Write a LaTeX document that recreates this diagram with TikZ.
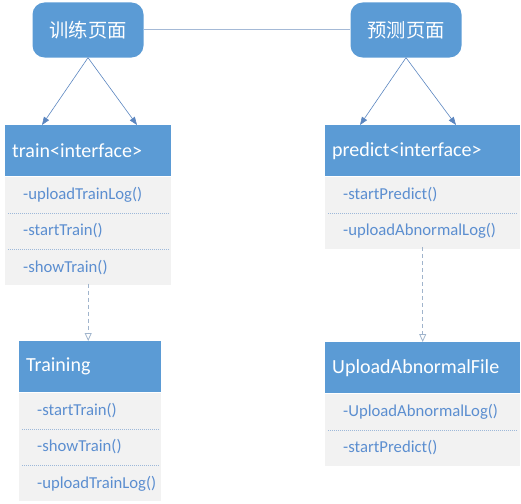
\documentclass[tikz,border=0pt]{standalone}
\usepackage{fontspec}
\setmainfont{Carlito}
\newfontfamily\cjkfont{Noto Sans CJK SC}
\usetikzlibrary{positioning,arrows.meta}

\definecolor{headblue}{HTML}{5B9BD5}
\definecolor{bodygray}{HTML}{F2F2F2}
\definecolor{membertext}{HTML}{5B8ED0}
\definecolor{arrowblue}{HTML}{5B86C0}
\definecolor{linkblue}{HTML}{A4B9D6}
\definecolor{dashblue}{HTML}{A0B4CC}
\definecolor{sepblue}{HTML}{9DB8D9}

\tikzset{
  page/.style={fill=headblue, rounded corners=12pt, minimum width=111pt,
    minimum height=55pt, text=white, font=\cjkfont\fontsize{19.3}{22}\selectfont},
  header/.style={fill=headblue, text=white, anchor=north west, minimum height=51pt,
    inner xsep=7pt, text width=#1, align=left, font=\fontsize{20}{23}\selectfont},
  member/.style={fill=bodygray, text=membertext, minimum height=36pt,
    inner xsep=2pt, text width=#1, align=left, font=\fontsize{16.7}{19}\selectfont,
    execute at begin node={\hspace*{16pt}}},
  uses/.style={draw=arrowblue, line width=0.6pt, -{Triangle[length=8pt, width=6pt]}},
  realize/.style={draw=dashblue, line width=0.8pt, dash pattern=on 4pt off 3pt,
    -{Triangle[open, length=8pt, width=7pt]}},
  sep/.style={draw=sepblue, line width=0.6pt, dash pattern=on 1pt off 1pt}
}

\begin{document}
\begin{tikzpicture}[x=1pt, y=-1pt]
  \useasboundingbox (0,0) rectangle (521,503);

  % Pages
  \node [page] (trainpage) at (88,30) {训练页面};
  \node [page] (predictpage) at (406,30) {预测页面};
  \draw [linkblue, line width=1pt] (trainpage) -- (predictpage);

  % train<interface>
  \node [header=152pt] (trainhead) at (5,125) {train<interface>};
  \node [member=162pt, below=0pt of trainhead] (trainupload) {-uploadTrainLog()};
  \node [member=162pt, below=0pt of trainupload] (trainstart) {-startTrain()};
  \node [member=162pt, below=0pt of trainstart] (trainshow) {-showTrain()};

  % Training
  \node [header=128pt] (traininghead) at (19,341) {Training};
  \node [member=138pt, below=0pt of traininghead] (trainingstart) {-startTrain()};
  \node [member=138pt, below=0pt of trainingstart] (trainingshow) {-showTrain()};
  \node [member=138pt, below=0pt of trainingshow] (trainingupload) {-uploadTrainLog()};

  % predict<interface>
  \node [header=181pt] (predicthead) at (325,125) {predict<interface>};
  \node [member=191pt, below=0pt of predicthead] (predictstart) {-startPredict()};
  \node [member=191pt, below=0pt of predictstart] (predictupload) {-uploadAbnormalLog()};

  % UploadAbnormalFile
  \node [header=181pt] (uploadhead) at (325,342) {UploadAbnormalFile};
  \node [member=191pt, below=0pt of uploadhead] (uploadlog) {-UploadAbnormalLog()};
  \node [member=191pt, below=0pt of uploadlog] (uploadstart) {-startPredict()};

  % Separators
  \foreach \row in {trainupload, trainstart, trainingstart, trainingshow, predictstart, uploadlog}
    \draw [sep] ([xshift=3pt]\row.south west) -- ([xshift=-3pt]\row.south east);

  % Connectors
  \draw [uses] (trainpage.south) -- ([xshift=37pt]trainhead.north west);
  \draw [uses] (trainpage.south) -- ([xshift=132pt]trainhead.north west);
  \draw [uses] (predictpage.south) -- ([xshift=35pt]predicthead.north west);
  \draw [uses] (predictpage.south) -- ([xshift=131pt]predicthead.north west);
  \draw [realize] ([yshift=2pt]trainshow.south) -- (trainshow.south |- traininghead.north);
  \draw [realize] ([yshift=2pt]predictupload.south) -- (predictupload.south |- uploadhead.north);

\end{tikzpicture}
\end{document}
